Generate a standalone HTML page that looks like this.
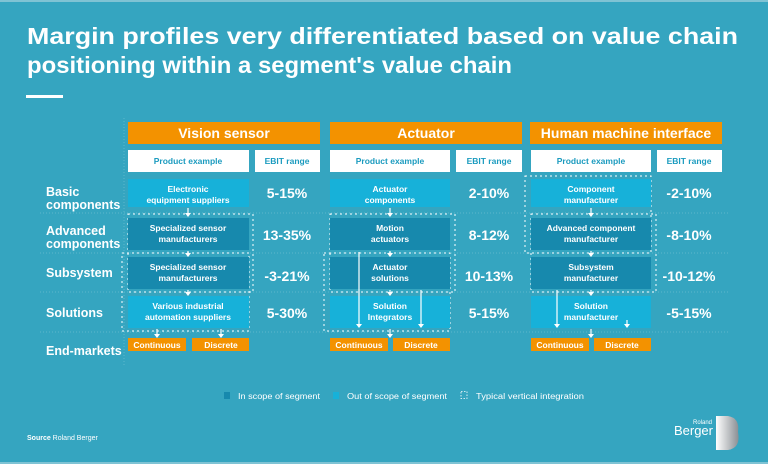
<!DOCTYPE html>
<html><head><meta charset="utf-8"><style>
html,body{margin:0;padding:0;background:#35a5c0;}
svg{display:block;font-family:"Liberation Sans",sans-serif;}
</style></head><body>
<svg width="768" height="464" viewBox="0 0 768 464" xmlns="http://www.w3.org/2000/svg">
<rect width="768" height="464" fill="#35a5c0"/>
<rect x="0" y="0" width="768" height="2" fill="#7fc3d4"/>
<text x="27" y="44" font-size="23" font-weight="bold" fill="#fff" textLength="711" lengthAdjust="spacingAndGlyphs">Margin profiles very differentiated based on value chain</text>
<text x="27" y="73" font-size="23" font-weight="bold" fill="#fff" textLength="485" lengthAdjust="spacingAndGlyphs">positioning within a segment's value chain</text>
<rect x="26" y="95" width="37" height="3" fill="#fff"/>

<g stroke="#5db6cc" stroke-width="1" stroke-dasharray="1,2">
<line x1="40" y1="213" x2="730" y2="213"/>
<line x1="40" y1="253" x2="730" y2="253"/>
<line x1="40" y1="292" x2="730" y2="292"/>
<line x1="40" y1="332" x2="730" y2="332"/>
<line x1="124" y1="118" x2="124" y2="365"/>
</g>

<g fill="#fff" font-size="12.5" font-weight="bold">
<text x="46" y="196">Basic</text><text x="46" y="209">components</text>
<text x="46" y="235">Advanced</text><text x="46" y="248">components</text>
<text x="46" y="277">Subsystem</text>
<text x="46" y="317">Solutions</text>
<text x="46" y="355">End-markets</text>
</g>

<g fill="none" stroke="#fff" stroke-width="1" stroke-dasharray="2,3">
<rect x="128" y="214" width="125" height="78"/>
<rect x="122" y="253" width="127" height="78"/>
<rect x="330" y="214" width="125" height="78"/>
<rect x="324" y="253" width="126" height="78"/>
<rect x="525" y="176" width="126" height="77"/>
<rect x="531" y="214" width="125" height="78"/>
</g>

<g font-weight="bold" fill="#fff" font-size="14" text-anchor="middle">
<rect x="128" y="122" width="192" height="22" fill="#f39200"/><text x="224" y="138">Vision sensor</text>
<rect x="330" y="122" width="192" height="22" fill="#f39200"/><text x="426" y="138">Actuator</text>
<rect x="530" y="122" width="192" height="22" fill="#f39200"/><text x="626" y="138">Human machine interface</text>
</g>
<g font-weight="bold" fill="#1b9bbf" font-size="8.5" text-anchor="middle">
<rect x="128" y="150" width="121" height="22" fill="#fff"/><text x="188" y="164">Product example</text>
<rect x="255" y="150" width="65" height="22" fill="#fff"/><text x="287" y="164">EBIT range</text>
<rect x="330" y="150" width="120" height="22" fill="#fff"/><text x="390" y="164">Product example</text>
<rect x="456" y="150" width="66" height="22" fill="#fff"/><text x="489" y="164">EBIT range</text>
<rect x="531" y="150" width="120" height="22" fill="#fff"/><text x="591" y="164">Product example</text>
<rect x="657" y="150" width="65" height="22" fill="#fff"/><text x="689" y="164">EBIT range</text>
</g>

<g>
<rect x="128" y="179" width="121" height="28" fill="#17b1d9"/>
<rect x="128" y="218" width="121" height="32" fill="#1789ad"/>
<rect x="128" y="257" width="121" height="32" fill="#1789ad"/>
<rect x="128" y="296" width="121" height="32" fill="#17b1d9"/>
<rect x="330" y="179" width="120" height="28" fill="#17b1d9"/>
<rect x="330" y="218" width="120" height="32" fill="#1789ad"/>
<rect x="330" y="257" width="120" height="32" fill="#1789ad"/>
<rect x="330" y="296" width="120" height="32" fill="#17b1d9"/>
<rect x="531" y="179" width="120" height="28" fill="#17b1d9"/>
<rect x="531" y="218" width="120" height="32" fill="#1789ad"/>
<rect x="531" y="257" width="120" height="32" fill="#1789ad"/>
<rect x="531" y="296" width="120" height="32" fill="#17b1d9"/>
</g>
<g fill="#fff" font-size="8.5" text-anchor="middle" font-weight="bold">
<text x="188" y="192">Electronic</text><text x="188" y="203">equipment suppliers</text>
<text x="188" y="231">Specialized sensor</text><text x="188" y="242">manufacturers</text>
<text x="188" y="270">Specialized sensor</text><text x="188" y="281">manufacturers</text>
<text x="188" y="309">Various industrial</text><text x="188" y="320">automation suppliers</text>
<text x="390" y="192">Actuator</text><text x="390" y="203">components</text>
<text x="390" y="231">Motion</text><text x="390" y="242">actuators</text>
<text x="390" y="270">Actuator</text><text x="390" y="281">solutions</text>
<text x="390" y="309">Solution</text><text x="390" y="320">Integrators</text>
<text x="591" y="192">Component</text><text x="591" y="203">manufacturer</text>
<text x="591" y="231">Advanced component</text><text x="591" y="242">manufacturer</text>
<text x="591" y="270">Subsystem</text><text x="591" y="281">manufacturer</text>
<text x="591" y="309">Solution</text><text x="591" y="320">manufacturer</text>
</g>

<g fill="#fff" font-size="14" text-anchor="middle" font-weight="bold">
<text x="287" y="198">5-15%</text><text x="287" y="240">13-35%</text><text x="287" y="281">-3-21%</text><text x="287" y="318">5-30%</text>
<text x="489" y="198">2-10%</text><text x="489" y="240">8-12%</text><text x="489" y="281">10-13%</text><text x="489" y="318">5-15%</text>
<text x="689" y="198">-2-10%</text><text x="689" y="240">-8-10%</text><text x="689" y="281">-10-12%</text><text x="689" y="318">-5-15%</text>
</g>

<defs><path id="ah" d="M-3,-3 L3,-3 L0,1 Z" fill="#fff"/></defs>
<g stroke="#fff" stroke-width="1.2">
<line x1="188" y1="208" x2="188" y2="214"/><line x1="188" y1="251" x2="188" y2="253"/><line x1="188" y1="290" x2="188" y2="292"/>
<line x1="157" y1="329" x2="157" y2="335"/><line x1="221" y1="329" x2="221" y2="335"/>
<line x1="390" y1="208" x2="390" y2="214"/><line x1="390" y1="251" x2="390" y2="253"/><line x1="390" y1="290" x2="390" y2="292"/><line x1="390" y1="329" x2="390" y2="335"/>
<line x1="359" y1="252" x2="359" y2="324"/><line x1="421" y1="290" x2="421" y2="324"/>
<line x1="591" y1="208" x2="591" y2="214"/><line x1="591" y1="251" x2="591" y2="253"/><line x1="591" y1="290" x2="591" y2="292"/><line x1="591" y1="329" x2="591" y2="335"/>
<line x1="557" y1="290" x2="557" y2="324"/><line x1="627" y1="320" x2="627" y2="324"/>
</g>
<g>
<use href="#ah" x="188" y="216"/><use href="#ah" x="188" y="256"/><use href="#ah" x="188" y="295"/>
<use href="#ah" x="157" y="337"/><use href="#ah" x="221" y="337"/>
<use href="#ah" x="390" y="216"/><use href="#ah" x="390" y="256"/><use href="#ah" x="390" y="295"/><use href="#ah" x="390" y="337"/>
<use href="#ah" x="359" y="327"/><use href="#ah" x="421" y="327"/>
<use href="#ah" x="591" y="216"/><use href="#ah" x="591" y="256"/><use href="#ah" x="591" y="295"/><use href="#ah" x="591" y="337"/>
<use href="#ah" x="557" y="327"/><use href="#ah" x="627" y="327"/>
</g>

<g fill="#fff" font-size="8.5" font-weight="bold" text-anchor="middle">
<rect x="128" y="338" width="58" height="13" fill="#f39200"/><text x="157" y="348">Continuous</text>
<rect x="192" y="338" width="57" height="13" fill="#f39200"/><text x="221" y="348">Discrete</text>
<rect x="330" y="338" width="58" height="13" fill="#f39200"/><text x="359" y="348">Continuous</text>
<rect x="393" y="338" width="57" height="13" fill="#f39200"/><text x="421" y="348">Discrete</text>
<rect x="531" y="338" width="58" height="13" fill="#f39200"/><text x="560" y="348">Continuous</text>
<rect x="594" y="338" width="57" height="13" fill="#f39200"/><text x="622" y="348">Discrete</text>
</g>

<rect x="224" y="392" width="6" height="7" fill="#1789ad"/>
<text x="238" y="399" font-size="8" fill="#fff" textLength="82" lengthAdjust="spacingAndGlyphs">In scope of segment</text>
<rect x="333" y="392" width="6" height="7" fill="#17b1d9"/>
<text x="347" y="399" font-size="8" fill="#fff" textLength="100" lengthAdjust="spacingAndGlyphs">Out of scope of segment</text>
<rect x="461" y="391.5" width="6" height="7" fill="none" stroke="#fff" stroke-width="0.8" stroke-dasharray="1.5,1.5"/>
<text x="476" y="399" font-size="8" fill="#fff" textLength="108" lengthAdjust="spacingAndGlyphs">Typical vertical integration</text>

<text x="27" y="440" font-size="7" fill="#fff"><tspan font-weight="bold">Source</tspan> Roland Berger</text>

<text x="712" y="424" font-size="6" fill="#fff" text-anchor="end">Roland</text>
<text x="713" y="435" font-size="13" fill="#fff" text-anchor="end">Berger</text>
<defs><linearGradient id="lg" x1="0" x2="1"><stop offset="0" stop-color="#fff"/><stop offset="1" stop-color="#8a8f94"/></linearGradient></defs>
<path d="M716,416 L728,416 Q740,418 738,432 Q741,448 728,450 L716,450 Z" fill="url(#lg)"/>
<rect x="0" y="462" width="768" height="2" fill="#7fc3d4"/>
</svg>
</body></html>
